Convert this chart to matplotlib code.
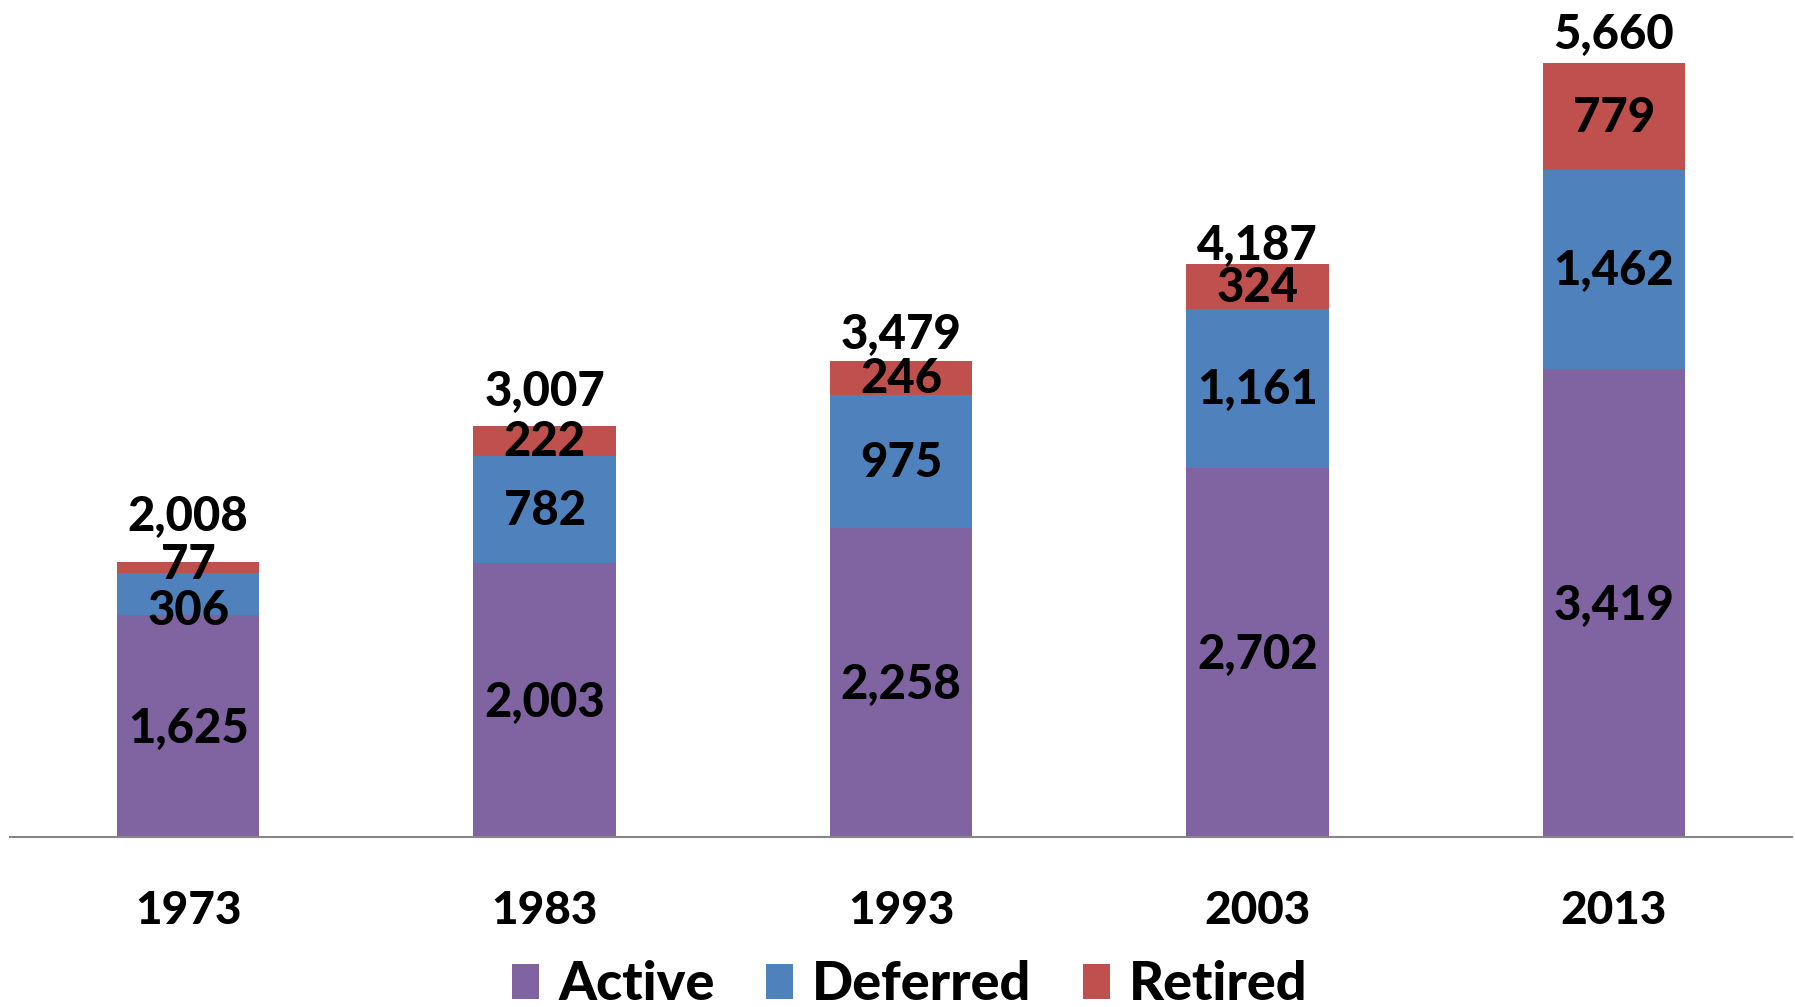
import matplotlib
matplotlib.use('agg')
from matplotlib import pyplot as plt
from matplotlib.patches import Patch
import numpy as np

plt.rcParams['font.family'] = ['Lato', 'DejaVu Sans']

years = ['1973', '1983', '1993', '2003', '2013']
active = [1625, 2003, 2258, 2702, 3419]
deferred = [306, 782, 975, 1161, 1462]
retired = [77, 222, 246, 324, 779]
series_names = ['Active', 'Deferred', 'Retired']
colors = ['#8064A2', '#4F81BD', '#C0504D']

# nudges (points) used to keep crowded labels apart, like the original
total_nudge = [33, 24, 19, 13, 20]
deferred_nudge = [-12, -1, -1, -1, -1]
retired_nudge = [2, -1, -1, -1, -1]

W = 900  # heavy weight, closer to the Calibri bold of the original

fig = plt.figure(figsize=(17.95, 10.07), dpi=100)
ax = fig.add_axes([10 / 1795, 0.1688, 1782 / 1795, 0.8148])

x = np.arange(len(years))
w = 0.4
bottom = np.zeros(len(years))
stacks = [active, deferred, retired]
nudges = [[-2] * len(years), deferred_nudge, retired_nudge]
for vals, col, nud in zip(stacks, colors, nudges):
    vals = np.array(vals)
    ax.bar(x, vals, w, bottom=bottom, color=col, edgecolor='none')
    for i, v in enumerate(vals):
        ax.annotate(f'{v:,}', (x[i], bottom[i] + v / 2), xytext=(0, nud[i]),
                    textcoords='offset points', ha='center', va='center',
                    fontsize=34, fontweight=W, color='black')
    bottom += vals

for i, t in enumerate(bottom):
    ax.annotate(f'{int(t):,}', (x[i], t), xytext=(0, total_nudge[i]),
                textcoords='offset points', ha='center', va='center',
                fontsize=34, fontweight=W, color='black')

ax.set_xlim(-0.5, len(years) - 0.5)
ax.set_ylim(0, 6000)
ax.set_xticks(x)
ax.set_xticklabels(years, fontsize=33, fontweight=W)
ax.tick_params(axis='x', length=0, pad=38)
ax.set_yticks([])
for s in ['top', 'right', 'left']:
    ax.spines[s].set_visible(False)
ax.spines['bottom'].set_color('#868686')
ax.spines['bottom'].set_linewidth(1.5)

handles = [Patch(facecolor=c, edgecolor='none') for c in colors]
fig.legend(handles, series_names, loc='center', bbox_to_anchor=(0.507, 0.022),
           ncol=3, frameon=False, prop={'size': 39, 'weight': W},
           handlelength=0.5, handleheight=0.62, handletextpad=0.35,
           columnspacing=0.95)

fig.savefig('out.png', dpi=100)
